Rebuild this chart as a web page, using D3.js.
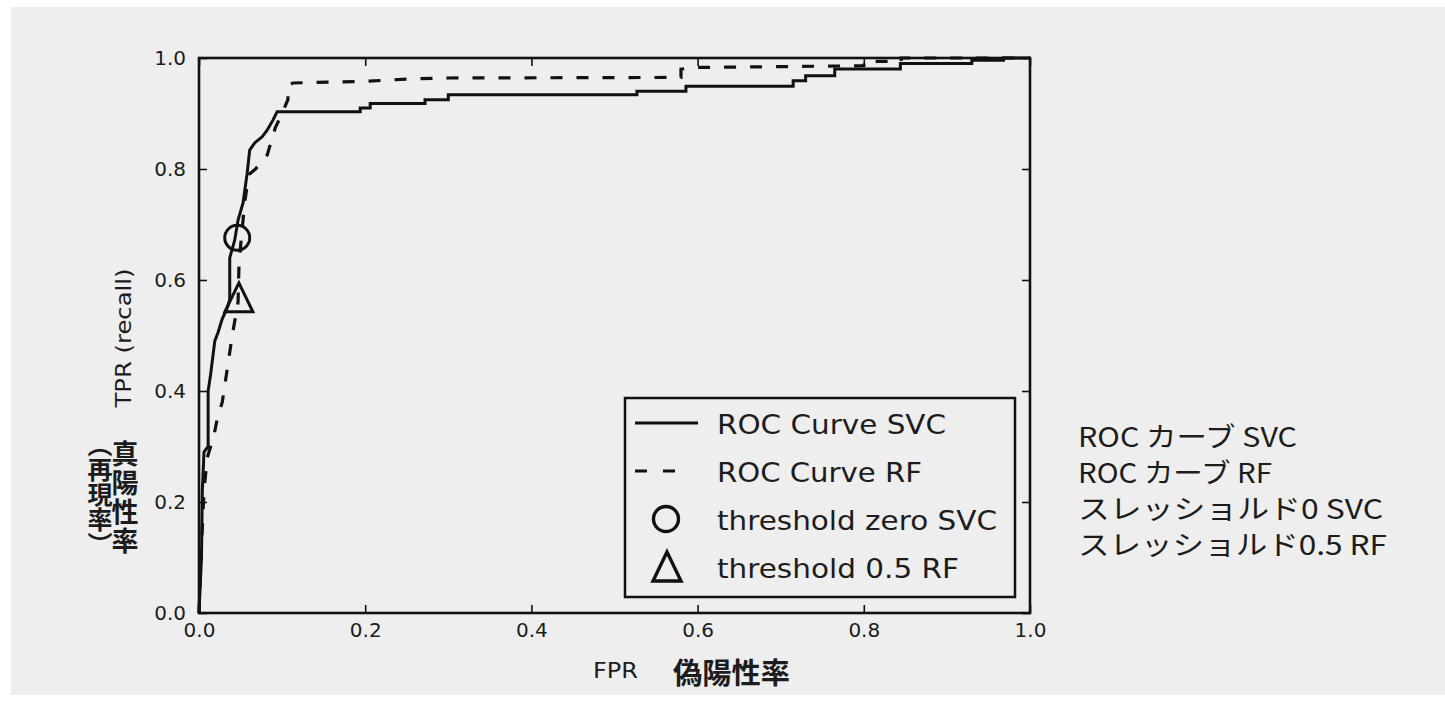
<!DOCTYPE html>
<html lang="ja">
<head>
  <meta charset="UTF-8">
  <title>ROC curve</title>
  <style>
    body { margin: 0; background: #fff; }
    text { fill: #1c1c1c; }
    .axis text { font-family: "DejaVu Sans", sans-serif; font-size: 20px; fill: #1c1c1c; }
    .axis line { stroke: #111; stroke-width: 1.6; }
    .axis path { display: none; }
    .curve { fill: none; stroke: #111; stroke-width: 3; stroke-linejoin: miter; }
    .curve--rf { stroke-dasharray: 12 14; stroke-width: 3.2; }
    .legend text { font-family: "DejaVu Sans", sans-serif; font-size: 27px; }
    .jp { font-family: "Noto Sans CJK JP", sans-serif; }
  </style>
</head>
<body>
  <svg width="1445" height="701"></svg>
  <script src="https://cdn.jsdelivr.net/npm/d3@7"></script>
  <script>
    // tick labels
    var xTicks = [0, 0.2, 0.4, 0.6, 0.8, 1.0];
    var yTicks = [0, 0.2, 0.4, 0.6, 0.8, 1.0];

    // ROC curve of the SVC (solid)
    var svcFpr = [0, 0.003, 0.004, 0.006, 0.011, 0.011, 0.014, 0.019, 0.023, 0.028, 0.034, 0.037, 0.037, 0.043,
      0.047, 0.053, 0.058, 0.061, 0.067, 0.076, 0.082, 0.089, 0.094, 0.194, 0.194, 0.206, 0.206, 0.272, 0.272,
      0.30, 0.30, 0.527, 0.527, 0.586, 0.586, 0.715, 0.715, 0.73, 0.73, 0.765, 0.765, 0.844, 0.844, 0.93, 0.93,
      0.968, 0.968, 1.0];
    var svcTpr = [0, 0.1, 0.22, 0.29, 0.30, 0.40, 0.43, 0.49, 0.506, 0.53, 0.55, 0.565, 0.64, 0.672,
      0.708, 0.739, 0.793, 0.834, 0.847, 0.858, 0.87, 0.888, 0.903, 0.903, 0.91, 0.91, 0.918, 0.918, 0.925,
      0.925, 0.934, 0.934, 0.94, 0.94, 0.949, 0.949, 0.959, 0.959, 0.968, 0.968, 0.98, 0.98, 0.99, 0.99, 0.996,
      0.996, 1.0, 1.0];

    // ROC curve of the random forest (dashed)
    var rfFpr = [0, 0.003, 0.006, 0.01, 0.018, 0.022, 0.028, 0.032, 0.036, 0.04, 0.047, 0.048, 0.05, 0.055,
      0.06, 0.068, 0.082, 0.092, 0.1, 0.107, 0.107, 0.113, 0.2, 0.25, 0.3, 0.58, 0.58, 0.6, 0.8, 0.8, 0.845, 0.845, 1.0];
    var rfTpr = [0, 0.12, 0.22, 0.28, 0.32, 0.35, 0.38, 0.42, 0.46, 0.50, 0.56, 0.62, 0.66, 0.74,
      0.79, 0.80, 0.825, 0.875, 0.90, 0.925, 0.95, 0.955, 0.958, 0.962, 0.964, 0.965, 0.98, 0.983, 0.986, 0.994, 0.994, 1.0, 1.0];

    // threshold markers
    var svcZeroPoint = [0.046, 0.676];
    var rfHalfPoint = [0.048, 0.566];

    var legendLabels = ["ROC Curve SVC", "ROC Curve RF", "threshold zero SVC", "threshold 0.5 RF"];
    var legendWidths = [229, 205, 280, 242];
    var jpLabels = ["ROC カーブ SVC", "ROC カーブ RF", "スレッショルド0 SVC", "スレッショルド0.5 RF"];
    var jpWidths = [219, 194, 305, 309];

    var svg = d3.select("svg"),
      margin = {top: 58, left: 199},
      width = 831,
      height = 555;

    // scanned page background
    svg.append("rect")
      .attr("x", 11).attr("y", 7)
      .attr("width", 1434).attr("height", 688)
      .attr("fill", "#eeeeee");

    var g = svg.append("g")
      .attr("transform", "translate(" + margin.left + "," + margin.top + ")");

    var x = d3.scaleLinear().domain([0, 1]).range([0, width]),
      y = d3.scaleLinear().domain([0, 1]).range([height, 0]);

    var fmt = d3.format(".1f");

    // axes, ticks point inward
    g.append("g")
      .attr("class", "axis")
      .attr("transform", "translate(0," + height + ")")
      .call(d3.axisBottom(x).tickValues(xTicks).tickFormat(fmt).tickSize(-8).tickSizeOuter(0).tickPadding(10));
    g.append("g")
      .attr("class", "axis")
      .call(d3.axisLeft(y).tickValues(yTicks).tickFormat(fmt).tickSize(-8).tickSizeOuter(0).tickPadding(13));
    g.append("g")
      .attr("class", "axis")
      .call(d3.axisTop(x).tickValues(xTicks).tickFormat("").tickSize(-8).tickSizeOuter(0));
    g.append("g")
      .attr("class", "axis")
      .attr("transform", "translate(" + width + ",0)")
      .call(d3.axisRight(y).tickValues(yTicks).tickFormat("").tickSize(-8).tickSizeOuter(0));

    // curves
    var line = d3.line()
      .x(function(d) { return x(d[0]); })
      .y(function(d) { return y(d[1]); });

    g.append("path")
      .attr("class", "curve curve--rf")
      .attr("d", line(d3.zip(rfFpr, rfTpr)));
    g.append("path")
      .attr("class", "curve")
      .attr("d", line(d3.zip(svcFpr, svcTpr)));

    var triShape = d3.line()([[0, -16], [14, 13], [-14, 13]]) + "Z";

    g.append("circle")
      .attr("cx", x(svcZeroPoint[0])).attr("cy", y(svcZeroPoint[1]))
      .attr("r", 12.5)
      .attr("fill", "none").attr("stroke", "#111").attr("stroke-width", 3);
    g.append("path")
      .attr("d", triShape)
      .attr("transform", "translate(" + x(rfHalfPoint[0]) + "," + y(rfHalfPoint[1]) + ")")
      .attr("fill", "none").attr("stroke", "#111").attr("stroke-width", 3).attr("stroke-linejoin", "miter");

    // frame
    g.append("rect")
      .attr("width", width).attr("height", height)
      .attr("fill", "none").attr("stroke", "#111").attr("stroke-width", 2.6);

    // legend
    var legend = svg.append("g").attr("class", "legend");
    legend.append("rect")
      .attr("x", 625).attr("y", 398).attr("width", 390).attr("height", 199)
      .attr("fill", "#eeeeee").attr("stroke", "#111").attr("stroke-width", 2.5);

    var rowY = d3.scalePoint().domain(d3.range(legendLabels.length)).range([423, 567]);

    legendLabels.forEach(function(label, i) {
      var cy = rowY(i);
      if (i === 0) {
        legend.append("line").attr("x1", 635).attr("x2", 698).attr("y1", cy).attr("y2", cy)
          .attr("stroke", "#111").attr("stroke-width", 3);
      } else if (i === 1) {
        legend.append("line").attr("x1", 635).attr("x2", 677).attr("y1", cy).attr("y2", cy)
          .attr("stroke", "#111").attr("stroke-width", 3.2).attr("stroke-dasharray", "12 16");
      } else if (i === 2) {
        legend.append("circle").attr("cx", 666).attr("cy", cy).attr("r", 12.5)
          .attr("fill", "none").attr("stroke", "#111").attr("stroke-width", 3.4);
      } else {
        legend.append("path").attr("d", triShape)
          .attr("transform", "translate(667," + (cy + 1) + ")")
          .attr("fill", "none").attr("stroke", "#111").attr("stroke-width", 3.4);
      }
      legend.append("text")
        .attr("x", 717).attr("y", cy + 11)
        .attr("textLength", legendWidths[i]).attr("lengthAdjust", "spacingAndGlyphs")
        .text(label);
    });

    // axis labels
    svg.append("text")
      .attr("transform", "translate(131,338) rotate(-90)")
      .attr("text-anchor", "middle")
      .style("font-family", "DejaVu Sans, sans-serif")
      .style("font-size", "21px")
      .attr("textLength", 139).attr("lengthAdjust", "spacingAndGlyphs")
      .text("TPR (recall)");

    svg.append("text")
      .attr("class", "jp")
      .attr("x", 125).attr("y", 498)
      .attr("text-anchor", "middle")
      .style("writing-mode", "vertical-rl")
      .style("font-size", "27px").style("font-weight", "bold")
      .style("letter-spacing", "2px")
      .text("真陽性率");

    svg.append("text")
      .attr("class", "jp")
      .attr("x", 100).attr("y", 494)
      .attr("text-anchor", "middle")
      .style("writing-mode", "vertical-rl")
      .style("font-size", "25px").style("font-weight", "bold")
      .text("（再現率）");

    svg.append("text")
      .attr("x", 593).attr("y", 678)
      .style("font-family", "DejaVu Sans, sans-serif")
      .style("font-size", "22px")
      .attr("textLength", 45).attr("lengthAdjust", "spacingAndGlyphs")
      .text("FPR");

    svg.append("text")
      .attr("class", "jp")
      .attr("x", 673).attr("y", 684)
      .style("font-size", "29px").style("font-weight", "bold")
      .attr("textLength", 117).attr("lengthAdjust", "spacingAndGlyphs")
      .text("偽陽性率");

    // Japanese legend translation on the right
    var jpRow = d3.scalePoint().domain(d3.range(jpLabels.length)).range([437, 545]);
    jpLabels.forEach(function(label, i) {
      svg.append("text")
        .attr("class", "jp")
        .attr("x", 1078).attr("y", jpRow(i) + 10)
        .style("font-size", "27px")
        .attr("textLength", jpWidths[i]).attr("lengthAdjust", "spacingAndGlyphs")
        .text(label);
    });
  </script>
</body>
</html>
